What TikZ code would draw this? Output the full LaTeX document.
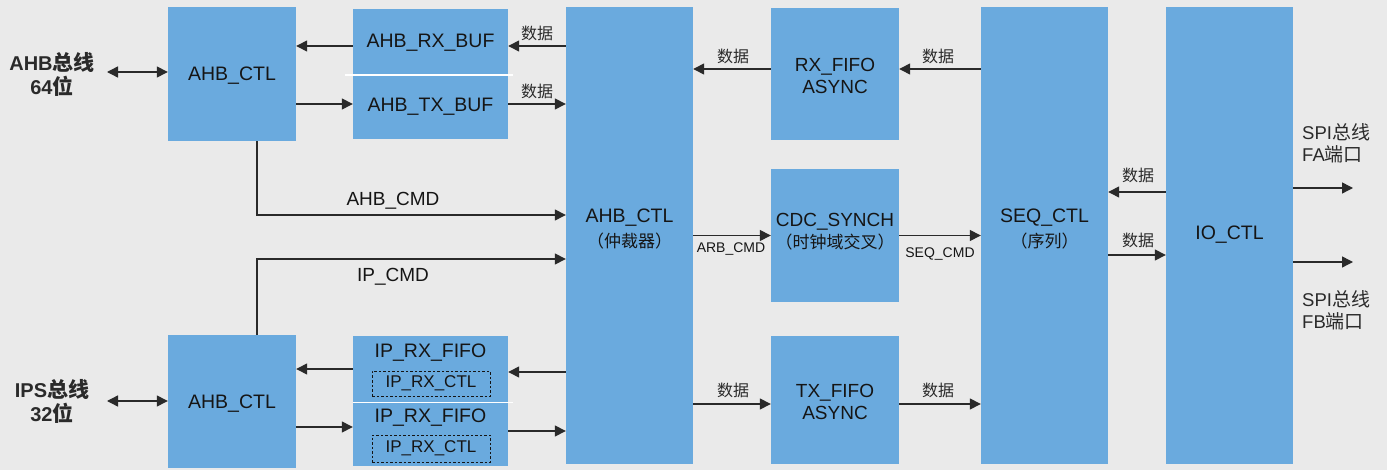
\documentclass[tikz,border=0pt]{standalone}
\usepackage{fontspec}
\setmainfont{Liberation Sans}
\newfontfamily\cjk{Noto Sans CJK SC}
\usetikzlibrary{arrows.meta}
\definecolor{bg}{HTML}{EAEAEA}
\definecolor{boxblue}{HTML}{6AAADE}
\definecolor{ink}{HTML}{151515}
\definecolor{lbl}{HTML}{2A2A2A}
\begin{document}
\begin{tikzpicture}[x=1pt,y=-1pt,
  blk/.style={fill=boxblue, draw=none, inner sep=0pt},
  btxt/.style={inner sep=0pt, text=ink, align=center, font=\fontsize{19.5}{25}\selectfont},
  arr/.style={line width=1.4pt, draw=lbl, -{Triangle[length=11pt,width=11pt]}},
  arrtwo/.style={line width=1.4pt, draw=lbl, {Triangle[length=11pt,width=11pt]}-{Triangle[length=11pt,width=11pt]}},
  dlbl/.style={inner sep=0pt, text=lbl, font=\cjk\fontsize{16}{18}\selectfont},
  clbl/.style={inner sep=0pt, text=ink, font=\fontsize{19}{22}\selectfont},
  slbl/.style={inner sep=0pt, text=ink, font=\fontsize{14}{16}\selectfont},
  buslbl/.style={inner sep=0pt, text=lbl, align=center, font=\bfseries\fontsize{20}{24}\selectfont},
  spilbl/.style={inner sep=0pt, text=lbl, align=left, font=\fontsize{18.5}{22}\selectfont},
  dbox/.style={draw=ink, dashed, dash pattern=on 2.5pt off 2pt, line width=0.9pt, inner sep=0pt, text=ink, font=\fontsize{17}{20}\selectfont},
  sep/.style={draw=white, line width=1.5pt}
]
\fill[bg] (0,0) rectangle (1387,470);

% blocks
\node[blk, minimum width=128pt, minimum height=134pt] (ahbA) at (232,74) {};
\node[btxt] (ahbAt) at (232,76) {AHB\_CTL};
\node[blk, minimum width=155pt, minimum height=66pt] (rxbuf) at (430.5,42) {};
\node[btxt] (rxbuft) at (430.5,43) {AHB\_RX\_BUF};
\node[blk, minimum width=155pt, minimum height=64pt] (txbuf) at (430.5,107) {};
\node[btxt] (txbuft) at (430.5,107) {AHB\_TX\_BUF};
\draw[sep] (345,75) -- (513,75);

\node[blk, minimum width=127pt, minimum height=457pt] (arb) at (629.5,235.5) {};
\node[btxt] (arbt) at (629.5,229) {AHB\_CTL\\{\cjk\fontsize{17}{20}\selectfont （仲裁器）}};

\node[blk, minimum width=128pt, minimum height=132pt] (rxfifo) at (835,74) {};
\node[btxt, font=\fontsize{19}{22}\selectfont] (rxfifot) at (835,76) {RX\_FIFO\\ASYNC};
\node[blk, minimum width=128pt, minimum height=133pt] (cdc) at (835,235.5) {};
\node[btxt, font=\fontsize{19}{22}\selectfont] (cdct) at (835,232) {CDC\_SYNCH\\{\cjk\fontsize{17}{20}\selectfont （时钟域交叉）}};
\node[blk, minimum width=128pt, minimum height=128pt] (txfifo) at (835,400) {};
\node[btxt, font=\fontsize{19}{22}\selectfont] (txfifot) at (835,402) {TX\_FIFO\\ASYNC};

\node[blk, minimum width=127pt, minimum height=457pt] (seq) at (1044.5,235.5) {};
\node[btxt] (seqt) at (1044.5,229) {SEQ\_CTL\\{\cjk\fontsize{17}{20}\selectfont （序列）}};
\node[blk, minimum width=127pt, minimum height=457pt] (io) at (1229.5,235.5) {};
\node[btxt] (iot) at (1229.5,235) {IO\_CTL};

\node[blk, minimum width=128pt, minimum height=133pt] (ahbB) at (232,401.5) {};
\node[btxt] (ahbBt) at (232,404) {AHB\_CTL};
\node[blk, minimum width=155pt, minimum height=66pt] (iprx1) at (430.5,369) {};
\node[btxt] (iprx1t) at (430.5,353) {IP\_RX\_FIFO};
\node[dbox, minimum width=118pt, minimum height=25pt] (ctl1) at (431,383.5) {IP\_RX\_CTL};
\node[blk, minimum width=155pt, minimum height=63pt] (iprx2) at (430.5,434.5) {};
\node[btxt] (iprx2t) at (430.5,418) {IP\_RX\_FIFO};
\node[dbox, minimum width=118pt, minimum height=27pt] (ctl2) at (431,448.5) {IP\_RX\_CTL};
\draw[sep] (353,402.5) -- (513,402.5);

% bus labels
\node[buslbl] (bus1) at (52,74) {AHB{\cjk\fontsize{21}{24}\selectfont 总线}\\64{\cjk\fontsize{21}{24}\selectfont 位}};
\node[buslbl] (bus2) at (52,401) {IPS{\cjk\fontsize{21}{24}\selectfont 总线}\\32{\cjk\fontsize{21}{24}\selectfont 位}};
\coordinate (bus1r) at (107,72);
\coordinate (bus2r) at (107,401);
\node[spilbl, anchor=west] (spia) at (1302,143) {SPI{\cjk\fontsize{19}{22}\selectfont 总线}\\FA{\cjk\fontsize{19}{22}\selectfont 端口}};
\node[spilbl, anchor=west] (spib) at (1302,310) {SPI{\cjk\fontsize{19}{22}\selectfont 总线}\\FB{\cjk\fontsize{19}{22}\selectfont 端口}};
\coordinate (fa) at (1353,188);
\coordinate (fb) at (1353,262);

% connectors
\draw[arrtwo] (bus1r) -- (ahbA.west |- bus1r);
\draw[arrtwo] (bus2r) -- (ahbB.west |- bus2r);
\draw[arr] ([yshift=-4pt]rxbuf.west) -- ([yshift=-4pt]rxbuf.west -| ahbA.east);
\draw[arr] ([yshift=3pt]txbuf.west -| ahbA.east) -- ([yshift=3pt]txbuf.west);
\draw[arr] ([yshift=-4pt]rxbuf.east -| arb.west) -- ([yshift=-4pt]rxbuf.east);
\draw[arr] ([yshift=3pt]txbuf.east) -- ([yshift=3pt]txbuf.east -| arb.west);
\draw[arr] ([yshift=5pt]rxfifo.west) -- ([yshift=5pt]rxfifo.west -| arb.east);
\draw[arr] ([yshift=5pt]rxfifo.east -| seq.west) -- ([yshift=5pt]rxfifo.east);
\draw[arr] ([xshift=25pt]ahbA.south) |- ([yshift=20.5pt]arb.west);
\draw[arr] ([xshift=25pt]ahbB.north) |- ([yshift=-23.5pt]arb.west);
\draw[arr] (arb.east |- cdc.west) -- (cdc.west);
\draw[arr] (cdc.east) -- (cdc.east -| seq.west);
\draw[arr] ([yshift=-4pt]txfifo.west -| arb.east) -- ([yshift=-4pt]txfifo.west);
\draw[arr] ([yshift=-4pt]txfifo.east) -- ([yshift=-4pt]txfifo.east -| seq.west);
\draw[arr] ([yshift=43.5pt]io.west) -- ([yshift=43.5pt]io.west -| seq.east);
\draw[arr] ([yshift=-19.5pt]io.west -| seq.east) -- ([yshift=-19.5pt]io.west);
\draw[arr] (io.east |- fa) -- (fa);
\draw[arr] (io.east |- fb) -- (fb);
\draw[arr] (iprx1.west) -- (iprx1.west -| ahbB.east);
\draw[arr] ([yshift=7.5pt]iprx2.west -| ahbB.east) -- ([yshift=7.5pt]iprx2.west);
\draw[arr] ([yshift=-3pt]iprx1.east -| arb.west) -- ([yshift=-3pt]iprx1.east);
\draw[arr] ([yshift=3.5pt]iprx2.east) -- ([yshift=3.5pt]iprx2.east -| arb.west);

% labels
\node[dlbl] (d1) at (537,33) {数据};
\node[dlbl] (d2) at (537,91) {数据};
\node[dlbl] (d3) at (733,56) {数据};
\node[dlbl] (d4) at (938,56) {数据};
\node[dlbl] (d5) at (733,390) {数据};
\node[dlbl] (d6) at (938,390) {数据};
\node[dlbl] (d7) at (1138,175) {数据};
\node[dlbl] (d8) at (1138,240) {数据};
\node[clbl] (ahbcmd) at (393,201) {AHB\_CMD};
\node[clbl] (ipcmd) at (393,277) {IP\_CMD};
\node[slbl] (arbcmd) at (731,249) {ARB\_CMD};
\node[slbl] (seqcmd) at (940,254) {SEQ\_CMD};
\end{tikzpicture}
\end{document}
